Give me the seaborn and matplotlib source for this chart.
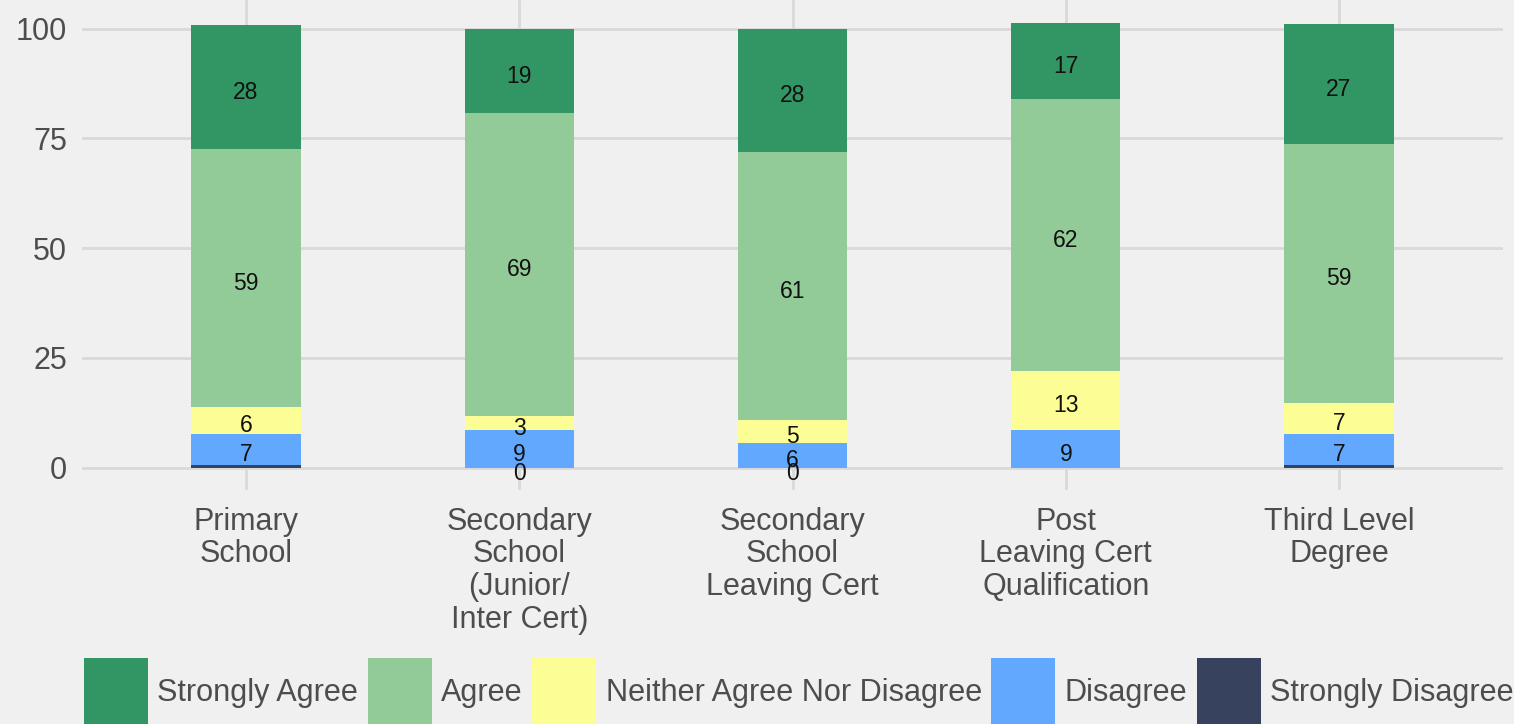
import numpy as np
import pandas as pd
import seaborn as sns
import matplotlib.pyplot as plt
from matplotlib.patches import Patch

# data (percent of respondents)
categories = ['Primary\nSchool', 'Secondary\nSchool\n(Junior/\nInter Cert)',
              'Secondary\nSchool\nLeaving Cert', 'Post\nLeaving Cert\nQualification',
              'Third Level\nDegree']
levels = ['Strongly Agree', 'Agree', 'Neither Agree Nor Disagree', 'Disagree', 'Strongly Disagree']
strongly_agree = [28.4, 19.3, 28.2, 17.4, 27.4]
agree = [58.6, 68.9, 60.9, 61.9, 58.8]
neither = [6.2, 3.2, 5.2, 13.4, 7.1]
disagree = [7.0, 8.6, 5.7, 8.6, 7.0]
strongly_disagree = [0.7, 0.0, 0.0, 0.0, 0.7]
sd_label_shown = [False, True, True, False, False]

colors = ['#329664', '#93cb98', '#fdfd96', '#63a8ff', '#37435e']

df = pd.DataFrame({'cat': categories, 'Strongly Agree': strongly_agree, 'Agree': agree,
                   'Neither Agree Nor Disagree': neither, 'Disagree': disagree,
                   'Strongly Disagree': strongly_disagree})

# cumulative from the bottom (Strongly Disagree first)
bottom_up = levels[::-1]
cum = df[bottom_up].cumsum(axis=1)

sns.set_style('white')
plt.rcParams['font.family'] = ['Liberation Sans', 'DejaVu Sans']

fig = plt.figure(figsize=(15.14, 7.24), dpi=100, facecolor='#f0f0f0')
ax = fig.add_axes([0.0542, 0.3232, 0.9385, 0.6768])
ax.set_facecolor('#f0f0f0')

# draw from the tallest stack down so each layer covers the one below
for lev, col in zip(levels, colors):
    sns.barplot(x=df['cat'], y=cum[lev], color=col, width=0.4, errorbar=None,
                order=categories, ax=ax, saturation=1, linewidth=0, zorder=3)

# value labels at segment centres
for i in range(len(categories)):
    for lev in bottom_up:
        v = df.loc[i, lev]
        if lev == 'Strongly Disagree' and not sd_label_shown[i]:
            continue
        y = cum.loc[i, lev] - v / 2
        ax.annotate(f'{round(v):d}', (i, y), xytext=(0, -3.8), textcoords='offset points',
                    ha='center', va='center', fontsize=16.5, color='#111111', zorder=5)

ax.set_xlim(-0.6, 4.6)
ax.set_ylim(-5.07, 106.5)
ax.set_yticks([0, 25, 50, 75, 100])
ax.set_xlabel('')
ax.set_ylabel('')
ax.grid(True, color='#d9d9d9', linewidth=2, zorder=0)
ax.set_axisbelow(True)
for s in ax.spines.values():
    s.set_visible(False)
ax.tick_params(axis='both', length=0, labelsize=22, colors='#4d4d4d')
ax.tick_params(axis='y', pad=11)
ax.tick_params(axis='x', pad=12)
for t in ax.get_xticklabels():
    t.set_linespacing(1.12)
    t.set_verticalalignment('top')

handles = [Patch(facecolor=c, edgecolor='none', label=l) for c, l in zip(colors, levels)]
fig.legend(handles=handles, loc='upper left', bbox_to_anchor=(84 / 1514, 1 - 658 / 724),
           ncol=5, frameon=False, fontsize=22.1, handlelength=2.08, handleheight=3.0,
           handletextpad=0.31, columnspacing=0.31, borderpad=0, borderaxespad=0,
           labelcolor='#4d4d4d')

fig.savefig('out.png', dpi=100, facecolor='#f0f0f0')
